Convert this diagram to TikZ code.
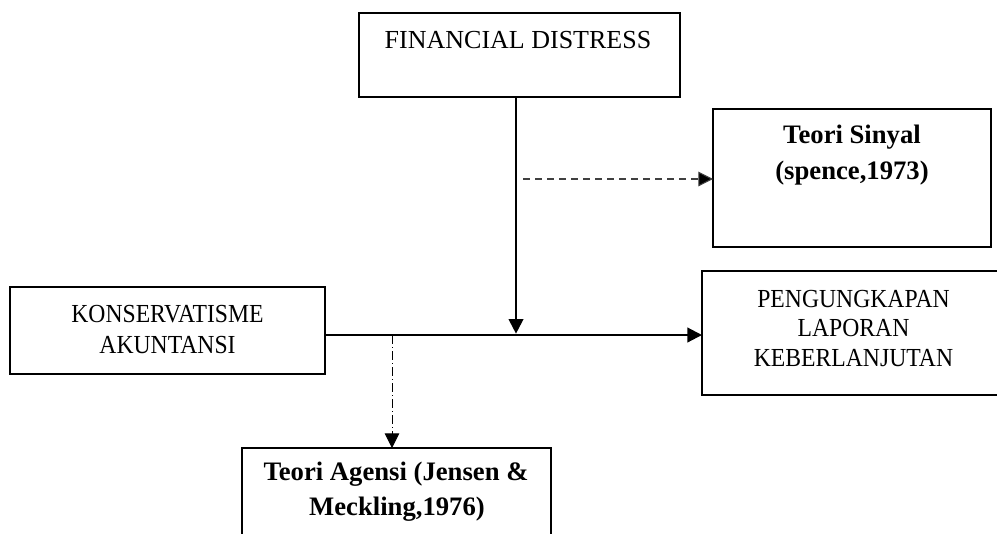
\documentclass[tikz,border=0pt]{standalone}
\usepackage{fontspec}
\setmainfont{Liberation Serif}
\newfontfamily\condfont[FakeStretch=0.91]{Liberation Serif}
\usetikzlibrary{arrows.meta,fit}
\begin{document}
\begin{tikzpicture}[x=0.75pt,y=-0.75pt,
  box/.style={draw=black,line width=1.6pt,inner sep=0pt,rectangle},
  txt/.style={anchor=base,inner sep=0pt,font=\fontsize{19.5}{23}\selectfont},
  ctxt/.style={anchor=base,inner sep=0pt,font=\fontsize{19.5}{23}\selectfont\condfont},
  btxt/.style={anchor=base,inner sep=0pt,font=\fontsize{20}{24}\selectfont\bfseries},
  mainarrow/.style={line width=1.6pt,-{Triangle[length=11pt,width=11pt]}},
  dasharrow/.style={line width=0.8pt,draw=black!75,dash pattern=on 5.5pt off 3.5pt,-{Triangle[length=11pt,width=11pt,fill=black]}},
  dotarrow/.style={line width=0.7pt,dash pattern=on 7pt off 2pt on 1pt off 2pt,-{Triangle[length=11pt,width=11pt]}}]
\clip (0,0) rectangle (997,533);
\useasboundingbox (0,0) rectangle (997,533);
% boxes
\node[box,fit={(359,13)(680,97)}] (fd) {};
\node[box,fit={(713,109)(991,247)}] (ts) {};
\node[box,fit={(10,287)(325,374)}] (ka) {};
\node[box,fit={(702,271)(1005,395)}] (plk) {};
\node[box,fit={(242,448)(551,545)}] (ta) {};
% texts
\node[txt] (fdt) at (518,48) {FINANCIAL DISTRESS};
\node[btxt] (ts1) at (852,143) {Teori Sinyal};
\node[btxt] (ts2) at (852,179) {(spence,1973)};
\node[ctxt] (ka1) at (167.5,322) {KONSERVATISME};
\node[ctxt] (ka2) at (167.5,353) {AKUNTANSI};
\node[ctxt] (p1) at (853.5,307) {PENGUNGKAPAN};
\node[ctxt] (p2) at (853.5,336) {LAPORAN};
\node[ctxt] (p3) at (853.5,366) {KEBERLANJUTAN};
\node[btxt] (ta1) at (396,480) {Teori Agensi (Jensen \&};
\node[btxt] (ta2) at (397,515) {Meckling,1976)};
% connector coordinates
\coordinate (fdbot) at (516,97);
\coordinate (meet) at (516,335);
\coordinate (dstart) at (523,179);
\coordinate (dend) at (713,179);
\coordinate (kstart) at (325,335);
\coordinate (pend) at (702,335);
\coordinate (astart) at (392,335);
\coordinate (aend) at (392,448);
% connectors
\draw[line width=1.6pt] (kstart) -- (meet);
\draw[mainarrow] (meet) -- (pend);
\draw[mainarrow] (fdbot) -- ([yshift=1pt]meet);
\draw[dasharrow] (dstart) -- (dend);
\draw[dotarrow] (astart) -- (aend);
\end{tikzpicture}
\end{document}
